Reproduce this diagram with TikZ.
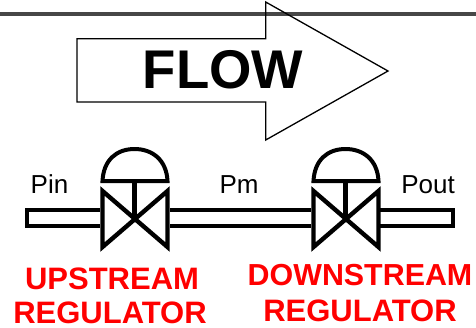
\documentclass[tikz,border=0pt]{standalone}
\usepackage{fontspec}
\setmainfont{Liberation Sans}
\definecolor{regred}{RGB}{255,0,0}
\tikzset{
  pipe/.style={draw=black,line width=4pt,fill=white,line join=miter},
  valve/.style={draw=black,line width=4.4pt,fill=white,line join=miter},
  dome/.style={draw=black,line width=4pt,fill=white},
  small/.style={inner sep=0pt,anchor=base,font=\fontsize{26pt}{26pt}\selectfont},
  redlabel/.style={inner sep=0pt,anchor=base,text=regred,font=\bfseries\fontsize{31pt}{31pt}\selectfont},
  redwide/.style={inner sep=0pt,anchor=base,text=regred,font=\bfseries\fontsize{30.4pt}{30.4pt}\selectfont}
}
\newcommand{\regulator}[1]{%
  \draw[valve] (#1-32,191) -- (#1+33,247) -- (#1+33,191) -- (#1-32,247) -- cycle;
  \draw[line width=4.4pt] (#1,181) -- (#1,219);
  \draw[dome] (#1-32,181) .. controls (#1-31,160) and (#1-18,149) .. (#1,149) .. controls (#1+18,149) and (#1+32,160) .. (#1+33,181) -- cycle;
}
\begin{document}
\begin{tikzpicture}[x=1pt,y=-1pt]
\useasboundingbox (0,0) rectangle (476,327);
\draw[line width=3.2pt,draw=black!72] (0,14) -- (476,14);
\draw[line width=1.3pt,line join=miter] (77,38.7) -- (265.7,38.7) -- (265.7,2) -- (388,71) -- (265.7,140) -- (265.7,102) -- (77,102) -- cycle;
\node[inner sep=0pt,anchor=base,font=\bfseries\fontsize{54.5pt}{54.5pt}\selectfont] (flow) at (223,88) {FLOW};
\draw[pipe] (100,209.5) -- (27,209.5) -- (27,225.5) -- (100,225.5);
\draw[pipe] (170,209.5) -- (311,209.5) (170,225.5) -- (311,225.5);
\draw[pipe] (380,209.5) -- (453,209.5) -- (453,225.5) -- (380,225.5);
\regulator{134.5}
\regulator{345.5}
\node[small] (pin) at (49.5,193) {Pin};
\node[small] (pm) at (239,193) {Pm};
\node[small] (pout) at (428,193) {Pout};
\node[redlabel] (up1) at (112,289.5) {UPSTREAM};
\node[redlabel] (up2) at (110,323) {REGULATOR};
\node[redwide] (down1) at (360,285.5) {DOWNSTREAM};
\node[redlabel] (down2) at (360,321) {REGULATOR};
\end{tikzpicture}
\end{document}
